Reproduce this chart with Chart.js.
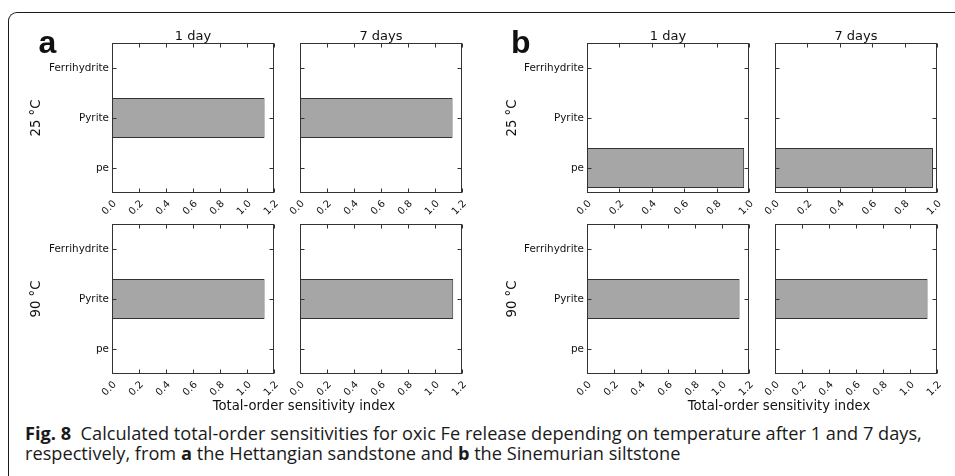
<!DOCTYPE html>
<html>
<head>
<meta charset="utf-8">
<script src="https://cdn.jsdelivr.net/npm/chart.js@4.4.0/dist/chart.umd.min.js"></script>
<style>
  body { margin: 0; width: 955px; height: 476px; position: relative; overflow: hidden; background: #fff; font-family: "DejaVu Sans", sans-serif; color: #111; }
  .frame { position: absolute; left: 8px; top: 12px; width: 1200px; height: 1200px; border-top: 1.3px solid #1a1a1a; border-left: 1.3px solid #1a1a1a; border-top-left-radius: 9px; }
  .panel { position: absolute; width: 250px; height: 186px; }
  .letter { position: absolute; font-family: "Liberation Sans", Arial, sans-serif; font-weight: bold; font-size: 32px; line-height: 32px; color: #111; }
  .title { position: absolute; width: 162px; text-align: center; font-size: 13px; line-height: 13px; white-space: nowrap; }
  .temp { position: absolute; font-size: 13.2px; line-height: 14px; white-space: nowrap; transform: translate(-50%, -50%) rotate(-90deg); }
  .xtitle { position: absolute; font-size: 13.2px; line-height: 14px; white-space: nowrap; transform: translate(-50%, -50%); }
  .caption { position: absolute; left: 25px; top: 422.5px; font-family: "Open Sans", sans-serif; font-size: 18.2px; line-height: 20px; color: #1a1a1a; white-space: nowrap; }
</style>
</head>
<body>
<div class="frame"></div>
<div id="root"></div>
<div class="caption" id="caption"></div>
<script>
const categories = ['Ferrihydrite', 'Pyrite', 'pe'];
const dayTitles = ['1 day', '7 days'];
const tempLabels = ['25 °C', '90 °C'];
const panelLetters = ['a', 'b'];
const xAxisTitle = 'Total-order sensitivity index';

// total-order sensitivity per category (Ferrihydrite, Pyrite, pe)
const a25Day1 = [0, 1.13, 0];
const a25Day7 = [0, 1.13, 0];
const a90Day1 = [0, 1.13, 0];
const a90Day7 = [0, 1.135, 0];
const b25Day1 = [0.006, 0, 0.97];
const b25Day7 = [0.006, 0, 0.975];
const b90Day1 = [0, 1.13, 0];
const b90Day7 = [0, 1.13, 0];

const ticksTo12 = [0.0, 0.2, 0.4, 0.6, 0.8, 1.0, 1.2];
const ticksTo10 = [0.0, 0.2, 0.4, 0.6, 0.8, 1.0];

// axes frame + inward ticks on all four sides, like matplotlib
const mplFrame = {
  id: 'mplFrame',
  afterDatasetsDraw(chart) {
    const { ctx, chartArea: a, scales: { x, y } } = chart;
    const L = Math.round(a.left) + 0.5, R = Math.round(a.right) - 0.5;
    const T = Math.round(a.top) + 0.5, B = Math.round(a.bottom) - 0.5;
    ctx.save();
    ctx.strokeStyle = '#333';
    ctx.lineWidth = 1;
    ctx.beginPath();
    x.ticks.forEach(t => {
      const px = Math.round(x.getPixelForValue(t.value)) + 0.5;
      ctx.moveTo(px, B); ctx.lineTo(px, B - 4);
      ctx.moveTo(px, T); ctx.lineTo(px, T + 4);
    });
    y.ticks.forEach((t, i) => {
      const py = Math.round(y.getPixelForTick(i)) + 0.5;
      ctx.moveTo(L, py); ctx.lineTo(L + 4, py);
      ctx.moveTo(R, py); ctx.lineTo(R - 4, py);
    });
    ctx.stroke();
    ctx.strokeRect(L, T, R - L, B - T);
    ctx.restore();
  }
};

function makePanel(values, xTicks, left, top, showLabels) {
  const box = document.createElement('div');
  box.className = 'panel';
  box.style.left = (left - 80) + 'px';
  box.style.top = (top - 6) + 'px';
  const canvas = document.createElement('canvas');
  canvas.width = 250;
  canvas.height = 186;
  box.appendChild(canvas);
  document.getElementById('root').appendChild(box);

  new Chart(canvas, {
    type: 'bar',
    data: {
      labels: categories,
      datasets: [{
        data: values,
        backgroundColor: '#a6a6a6',
        borderColor: '#333',
        borderWidth: 1,
        categoryPercentage: 0.8,
        barPercentage: 1.0
      }]
    },
    options: {
      indexAxis: 'y',
      responsive: false,
      animation: false,
      layout: { padding: { top: 6, right: 8, left: 0, bottom: 0 } },
      plugins: { legend: { display: false }, tooltip: { enabled: false } },
      scales: {
        x: {
          min: 0,
          max: xTicks[xTicks.length - 1],
          afterBuildTicks: s => { s.ticks = xTicks.map(v => ({ value: v })); },
          afterFit: s => { s.height = 30; s.paddingLeft = 0; s.paddingRight = 0; },
          grid: { display: false, drawTicks: false },
          border: { display: false },
          ticks: {
            autoSkip: false,
            minRotation: 45,
            maxRotation: 45,
            padding: 5,
            labelOffset: 3,
            color: '#111',
            font: { family: 'DejaVu Sans', size: 10 },
            callback: v => Number(v).toFixed(1)
          }
        },
        y: {
          afterFit: s => { s.width = 80; s.paddingTop = 0; s.paddingBottom = 0; },
          grid: { display: false, drawTicks: false },
          border: { display: false },
          ticks: {
            display: showLabels,
            padding: 3,
            color: '#111',
            font: { family: 'DejaVu Sans', size: 10.4 }
          }
        }
      }
    },
    plugins: [mplFrame]
  });
}

function addText(cls, text, left, top) {
  const d = document.createElement('div');
  d.className = cls;
  d.textContent = text;
  d.style.left = left + 'px';
  d.style.top = top + 'px';
  document.body.appendChild(d);
}

// plot-area placement of the eight panels
const colX = [112, 300, 587, 775];
const rowY = [43, 224];

makePanel(a25Day1, ticksTo12, colX[0], rowY[0], true);
makePanel(a25Day7, ticksTo12, colX[1], rowY[0], false);
makePanel(a90Day1, ticksTo12, colX[0], rowY[1], true);
makePanel(a90Day7, ticksTo12, colX[1], rowY[1], false);
makePanel(b25Day1, ticksTo10, colX[2], rowY[0], true);
makePanel(b25Day7, ticksTo10, colX[3], rowY[0], false);
makePanel(b90Day1, ticksTo12, colX[2], rowY[1], true);
makePanel(b90Day7, ticksTo12, colX[3], rowY[1], false);

colX.forEach((x, i) => addText('title', dayTitles[i % 2], x, 29));
addText('letter', panelLetters[0], 38.5, 26);
addText('letter', panelLetters[1], 511, 26);
addText('temp', tempLabels[0], 36, 118);
addText('temp', tempLabels[1], 36, 299);
addText('temp', tempLabels[0], 512, 118);
addText('temp', tempLabels[1], 512, 299);
addText('xtitle', xAxisTitle, 304, 406);
addText('xtitle', xAxisTitle, 779, 406);

document.getElementById('caption').innerHTML =
  '<b>Fig. 8</b>&nbsp; Calculated total-order sensitivities for oxic Fe release depending on temperature after 1 and 7 days,<br>' +
  'respectively, from <b>a</b> the Hettangian sandstone and <b>b</b> the Sinemurian siltstone';
</script>
</body>
</html>
